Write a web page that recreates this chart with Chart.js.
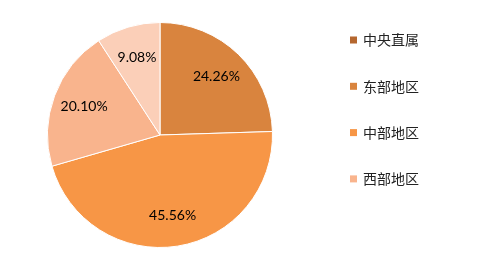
<!DOCTYPE html>
<html>
<head>
<meta charset="utf-8">
<script src="https://cdn.jsdelivr.net/npm/chart.js@4/dist/chart.umd.min.js"></script>
<style>
  html, body { margin: 0; padding: 0; background: #fff; }
  #wrap { width: 485px; height: 276px; }
</style>
</head>
<body>
<div id="wrap"><canvas id="pieChart" width="485" height="276"></canvas></div>
<script>
// chart data
const categories = ["中央直属", "东部地区", "中部地区", "西部地区", "其他"];
const shares = [0, 24.26, 45.56, 20.10, 9.08];
const shareLabels = ["", "24.26%", "45.56%", "20.10%", "9.08%"];
const legendCount = 4;

const colors = ["#B5672F", "#D9843E", "#F79646", "#F9B48D", "#FBCFB8"];

// draw percentage labels inside slices
const sliceLabels = {
    id: "sliceLabels",
    afterDatasetsDraw(chart) {
        const ctx = chart.ctx;
        const meta = chart.getDatasetMeta(0);
        ctx.save();
        ctx.font = "14px Lato";
        ctx.fillStyle = "#000";
        ctx.textAlign = "center";
        ctx.textBaseline = "middle";
        meta.data.forEach((arc, i) => {
            if (!shares[i]) return;
            const p = arc.getProps(["x", "y", "startAngle", "endAngle", "outerRadius"], true);
            const mid = (p.startAngle + p.endAngle) / 2;
            const d = p.outerRadius * 0.72;
            ctx.fillText(shareLabels[i], p.x + Math.cos(mid) * d, p.y + Math.sin(mid) * d);
        });
        ctx.restore();
    }
};

// legend on the right
const sideLegend = {
    id: "sideLegend",
    afterDraw(chart) {
        const ctx = chart.ctx;
        ctx.save();
        ctx.font = "14px 'Noto Sans CJK SC'";
        ctx.textBaseline = "middle";
        for (let i = 0; i < legendCount; i++) {
            const y = 40 + i * 46.3;
            ctx.fillStyle = colors[i];
            ctx.fillRect(350, y - 3.5, 7, 7);
            ctx.fillStyle = "#222";
            ctx.fillText(categories[i], 363, y);
        }
        ctx.restore();
    }
};

new Chart(document.getElementById("pieChart"), {
    type: "pie",
    data: {
        labels: categories,
        datasets: [{
            data: shares,
            backgroundColor: colors,
            borderColor: "#fff",
            borderWidth: 1
        }]
    },
    options: {
        responsive: false,
        animation: false,
        layout: { padding: { top: 22, bottom: 28, left: 47, right: 212 } },
        plugins: {
            legend: { display: false },
            tooltip: { enabled: false }
        }
    },
    plugins: [sliceLabels, sideLegend]
});
</script>
</body>
</html>
